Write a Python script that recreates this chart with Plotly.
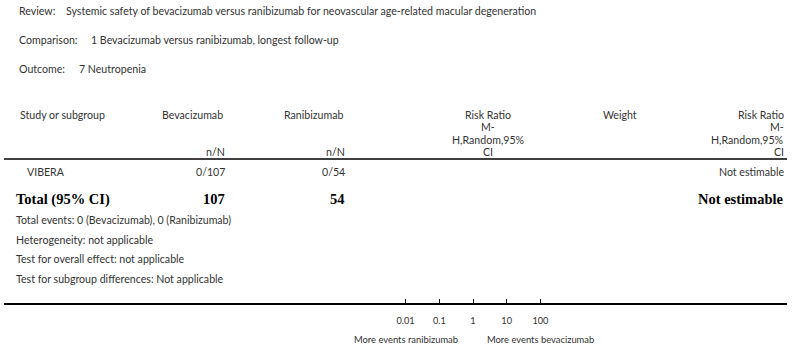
import math
import plotly.graph_objects as go

# ---- data ----
review_title = "Systemic safety of bevacizumab versus ranibizumab for neovascular age-related macular degeneration"
comparison_title = "1 Bevacizumab versus ranibizumab, longest follow-up"
outcome_title = "7 Neutropenia"
studies = ["VIBERA"]
bev_events = [0]
bev_total = [107]
ran_events = [0]
ran_total = [54]
study_effect = ["Not estimable"]
total_effect = "Not estimable"
footer_lines = [
    "Total events: 0 (Bevacizumab), 0 (Ranibizumab)",
    "Heterogeneity: not applicable",
    "Test for overall effect: not applicable",
    "Test for subgroup differences: Not applicable",
]
tick_vals = [0.01, 0.1, 1, 10, 100]
tick_text = ["0.01", "0.1", "1", "10", "100"]
favours_left = "More events ranibizumab"
favours_right = "More events bevacizumab"

# ---- layout constants (pixels from top-left) ----
W, H = 800, 347
AX_Y = 303                # bottom axis line
LINE_L, LINE_R = 4, 787
X_ONE = 473               # RR = 1
DEC = 33.7                # pixels per decade
r0 = -(X_ONE - LINE_L) / DEC
r1 = (LINE_R - X_ONE) / DEC

FONT = "Lato"
SERIF = "Liberation Serif"
TXT = "#333333"
FS = 10.6

fig = go.Figure()
fig.add_trace(go.Scatter(x=[1], y=[AX_Y / 2], mode="markers",
                         marker=dict(opacity=0), hoverinfo="skip", showlegend=False))

ann = []

def py(p):
    # pixel from top -> paper y (plot area spans 0..AX_Y px)
    return (AX_Y - p) / AX_Y

def text(x, y, s, anchor="left", size=FS, color=TXT, family=FONT):
    ann.append(dict(x=x / W, y=py(y), xref="paper", yref="paper", text=s, showarrow=False,
                    xanchor=anchor, yanchor="middle",
                    font=dict(family=family, size=size, color=color)))

# titles
text(17, 11, "Review:")
text(64, 11, review_title)
text(17, 40, "Comparison:")
text(89, 40, comparison_title)
text(17, 69, "Outcome:")
text(77, 69, outcome_title)

# headers
text(18, 115, "Study or subgroup")
text(225, 115, "Bevacizumab", anchor="right")
text(227, 152, "n/N", anchor="right")
text(345, 115, "Ranibizumab", anchor="right")
text(347, 152, "n/N", anchor="right")
for i, s in enumerate(["Risk Ratio", "M-", "H,Random,95%", "CI"]):
    text(488, 115 + 12.3 * i, s, anchor="center")
    text(786, 115 + 12.3 * i, s, anchor="right")
text(620, 115, "Weight", anchor="center")

# study rows
for i, name in enumerate(studies):
    y = 172 + 20 * i
    text(25, y, name)
    text(227, y, f"{bev_events[i]}/{bev_total[i]}", anchor="right")
    text(347, y, f"{ran_events[i]}/{ran_total[i]}", anchor="right")
    text(786, y, study_effect[i], anchor="right")

# totals
text(14, 199, "<b>Total (95% CI)</b>", size=14.5, color="#000000", family=SERIF)
text(227, 199, f"<b>{sum(bev_total)}</b>", anchor="right", size=14.5, color="#000000", family=SERIF)
text(347, 199, f"<b>{sum(ran_total)}</b>", anchor="right", size=14.5, color="#000000", family=SERIF)
text(786, 199, f"<b>{total_effect}</b>", anchor="right", size=14.5, color="#000000", family=SERIF)

for i, s in enumerate(footer_lines):
    text(14, 220 + 19.7 * i, s)

# favours labels under axis (x on the log axis, y in paper units)
for val, lab in [(tick_vals[0], favours_left), (tick_vals[-1], favours_right)]:
    ann.append(dict(x=math.log10(val), y=py(339), xref="x", yref="paper", text=lab,
                    showarrow=False, xanchor="center", yanchor="middle",
                    font=dict(family=FONT, size=9.4, color=TXT)))

shapes = [
    dict(type="line", xref="paper", yref="paper", x0=LINE_L / W, x1=LINE_R / W, y0=py(159), y1=py(159),
         line=dict(color="#000000", width=1.6)),
    dict(type="line", xref="x", yref="paper", x0=math.log10(1), x1=math.log10(1), y0=py(159), y1=py(AX_Y),
         line=dict(color="#888888", width=1)),
]

fig.update_layout(
    width=W, height=H,
    margin=dict(l=0, r=0, t=0, b=H - AX_Y, pad=0),
    paper_bgcolor="white", plot_bgcolor="white",
    showlegend=False,
    annotations=ann, shapes=shapes,
    xaxis=dict(type="log", range=[r0, r1], domain=[LINE_L / W, LINE_R / W],
               showgrid=False, zeroline=False, showline=True, linecolor="#000000", linewidth=1.6,
               ticks="inside", ticklen=4, tickcolor="#000000", tickwidth=1,
               tickvals=tick_vals, ticktext=tick_text, ticklabelstandoff=8,
               tickfont=dict(family=FONT, size=9.2, color=TXT), fixedrange=True),
    yaxis=dict(range=[0, 1], visible=False, showgrid=False, zeroline=False, fixedrange=True),
)

fig.write_html("out.html", config={"displayModeBar": False},
               post_script="document.body.style.margin='0';")
